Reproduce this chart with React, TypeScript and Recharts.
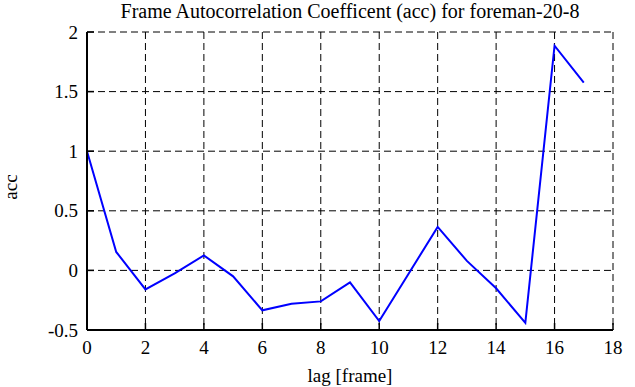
import React from 'react';
import { LineChart, Line, XAxis, YAxis, CartesianGrid } from 'recharts';

const lags = [0, 1, 2, 3, 4, 5, 6, 7, 8, 9, 10, 11, 12, 13, 14, 15, 16, 17];
const accValues = [1.0, 0.155, -0.16, -0.025, 0.125, -0.05, -0.335, -0.28, -0.26, -0.1, -0.425, -0.03, 0.365, 0.08, -0.15, -0.44, 1.885, 1.575];
const xTicks = [0, 2, 4, 6, 8, 10, 12, 14, 16, 18];
const yTicks = [-0.5, 0, 0.5, 1, 1.5, 2];
const yTickLabels = ['-0.5', '0', '0.5', '1', '1.5', '2'];

const data = lags.map((lag, i) => ({ lag, acc: accValues[i] }));

const FONT = '"Liberation Serif", "Times New Roman", serif';
const TL = 7;
const txtStyle = { fontFamily: FONT, fontSize: 19 };

const BottomTick = (props: any) => {
  const { x, y, payload } = props;
  return (
    <g>
      <line x1={x} y1={y} x2={x} y2={y - TL} stroke="#000" strokeWidth={1.5} />
      <text x={x} y={y + 24} textAnchor="middle" style={txtStyle} fill="#000">
        {payload.value}
      </text>
    </g>
  );
};

const TopTick = (props: any) => {
  const { x, y } = props;
  return <line x1={x} y1={y} x2={x} y2={y + TL} stroke="#000" strokeWidth={1.5} />;
};

const LeftTick = (props: any) => {
  const { x, y, payload } = props;
  const idx = yTicks.indexOf(payload.value);
  return (
    <g>
      <line x1={x} y1={y} x2={x + TL} y2={y} stroke="#000" strokeWidth={1.5} />
      <text x={x - 9} y={y} dy="0.35em" textAnchor="end" style={txtStyle} fill="#000">
        {idx >= 0 ? yTickLabels[idx] : payload.value}
      </text>
    </g>
  );
};

const RightTick = (props: any) => {
  const { x, y } = props;
  return <line x1={x} y1={y} x2={x - TL} y2={y} stroke="#000" strokeWidth={1.5} />;
};

const YLabel = (props: any) => {
  const vb = props.viewBox || {};
  const cy = (vb.y || 0) + (vb.height || 0) / 2 + 6;
  return (
    <text x={0} y={0} transform={`translate(17, ${cy}) rotate(-90)`} textAnchor="middle" style={txtStyle} fill="#000">
      acc
    </text>
  );
};

const XLabel = (props: any) => {
  const vb = props.viewBox || {};
  const cx = (vb.x || 0) + (vb.width || 0) / 2;
  return (
    <text x={cx} y={382} textAnchor="middle" style={txtStyle} fill="#000">
      lag [frame]
    </text>
  );
};

export default function App() {
  return (
    <div style={{ position: 'absolute', left: 0, top: 0, width: 635, height: 387, background: '#fff' }}>
      <div
        style={{
          position: 'absolute',
          left: 87,
          width: 526,
          top: -1,
          textAlign: 'center',
          fontFamily: FONT,
          fontSize: 20,
          lineHeight: '24px',
          color: '#000',
          whiteSpace: 'nowrap',
        }}
      >
        Frame Autocorrelation Coefficent (acc) for foreman-20-8
      </div>
      <LineChart width={635} height={387} data={data} margin={{ top: 32, right: 22, left: 0, bottom: 0 }}>
        <CartesianGrid stroke="#000" strokeWidth={1} strokeDasharray="7 4" />
        <XAxis
          dataKey="lag"
          type="number"
          domain={[0, 18]}
          ticks={xTicks}
          height={57}
          tickSize={0}
          tickMargin={0}
          tickLine={false}
          axisLine={{ stroke: '#000', strokeWidth: 2 }}
          tick={<BottomTick />}
          interval={0}
          label={<XLabel />}
        />
        <XAxis
          xAxisId="top"
          orientation="top"
          dataKey="lag"
          type="number"
          domain={[0, 18]}
          ticks={xTicks}
          height={0}
          tickSize={0}
          tickMargin={0}
          tickLine={false}
          axisLine={{ stroke: '#000', strokeWidth: 2 }}
          tick={<TopTick />}
          interval={0}
        />
        <YAxis
          type="number"
          domain={[-0.5, 2]}
          ticks={yTicks}
          width={87}
          tickSize={0}
          tickMargin={0}
          tickLine={false}
          axisLine={{ stroke: '#000', strokeWidth: 2 }}
          tick={<LeftTick />}
          interval={0}
          label={<YLabel />}
        />
        <YAxis
          yAxisId="right"
          orientation="right"
          type="number"
          domain={[-0.5, 2]}
          ticks={yTicks}
          width={0}
          tickSize={0}
          tickMargin={0}
          tickLine={false}
          axisLine={{ stroke: '#000', strokeWidth: 2 }}
          tick={<RightTick />}
          interval={0}
        />
        <Line
          type="linear"
          dataKey="acc"
          stroke="#0000ff"
          strokeWidth={2}
          dot={false}
          isAnimationActive={false}
        />
      </LineChart>
    </div>
  );
}
